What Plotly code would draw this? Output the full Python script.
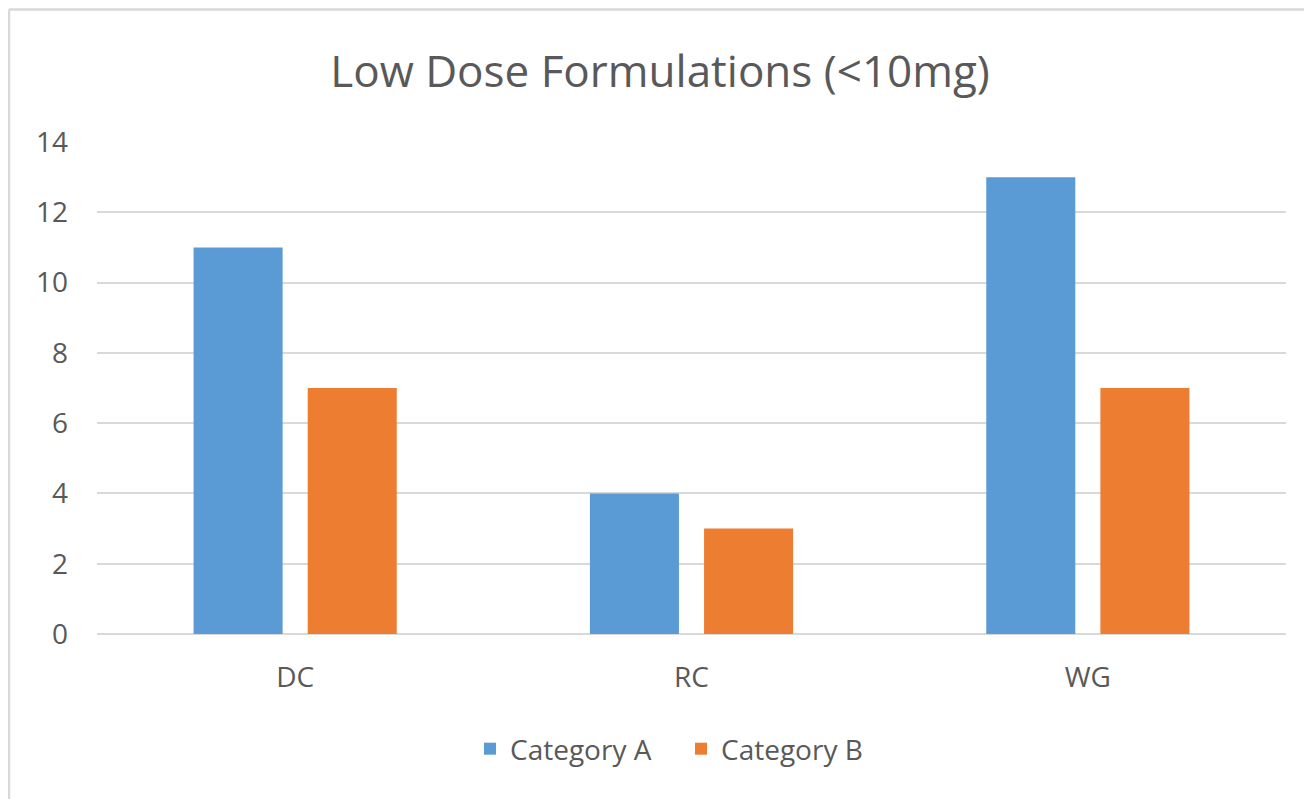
import plotly.graph_objects as go

categories = ["DC", "RC", "WG"]
series_names = ["Category A", "Category B"]
values_a = [11, 4, 13]
values_b = [7, 3, 7]
y_ticks = [0, 2, 4, 6, 8, 10, 12, 14]
title_text = "Low Dose Formulations (<10mg)"

colors = ["#5B9BD5", "#ED7D31"]
font_family = "Open Sans, Noto Sans, sans-serif"
text_color = "#595959"
grid_color = "#D9D9D9"

# page body has an 8px margin; work in figure coordinates = screen - 8
OFF = 8
W, H = 1312 - OFF, 799 - OFF
L, T = 97 - OFF, 142 - OFF
R = W - (1286 - OFF)
B = H - (634 - OFF)
pw, ph = W - L - R, H - T - B

fig = go.Figure()
for name, vals, col in zip(series_names, [values_a, values_b], colors):
    fig.add_trace(go.Bar(x=categories, y=vals, name=name, marker=dict(color=col, line=dict(width=0))))

def px_x(x):
    return (x - OFF - L) / pw

def px_y(y):
    return (H - B - (y - OFF)) / ph

top_y = px_y(OFF + 1.5)
shapes = [
    dict(type="line", xref="paper", yref="paper", x0=px_x(9), x1=px_x(9), y0=top_y, y1=px_y(820),
         line=dict(color=grid_color, width=2.5)),
    dict(type="line", xref="paper", yref="paper", x0=px_x(9), x1=px_x(1330), y0=top_y, y1=top_y,
         line=dict(color=grid_color, width=2.5)),
]

fig.update_layout(
    width=W, height=H,
    margin=dict(l=L, r=R, t=T, b=B, autoexpand=False),
    paper_bgcolor="white", plot_bgcolor="white",
    font=dict(family=font_family, color=text_color, size=28),
    title=dict(text=title_text, x=0.5, xanchor="center", y=1 - (72 - OFF) / H, yanchor="middle",
               font=dict(size=44, color=text_color, family=font_family)),
    barmode="group", bargap=0.424, bargroupgap=0.22,
    legend=dict(orientation="h", x=px_x(470), xanchor="left", y=px_y(749), yanchor="middle",
                font=dict(size=28, color=text_color), entrywidth=166, entrywidthmode="pixels",
                traceorder="normal"),
    shapes=shapes,
    xaxis=dict(showgrid=False, showline=False, ticks="", ticklabelstandoff=24,
               tickfont=dict(size=28, color=text_color)),
    yaxis=dict(range=[0, 14], tickvals=y_ticks, showgrid=True, gridcolor=grid_color, gridwidth=2,
               zeroline=True, zerolinecolor=grid_color, zerolinewidth=2, showline=False,
               ticks="", ticklabelstandoff=28, tickfont=dict(size=28, color=text_color)),
)

fig.write_html("out.html")
